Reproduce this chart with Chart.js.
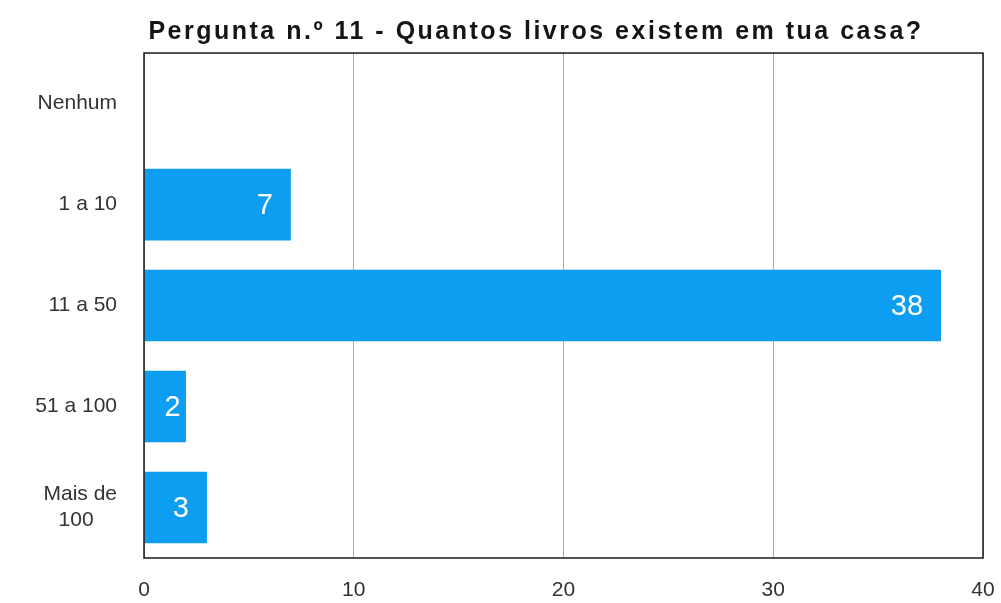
<!DOCTYPE html>
<html>
<head>
<meta charset="utf-8">
<script src="https://cdn.jsdelivr.net/npm/chart.js@4"></script>
<style>
  html, body { margin: 0; padding: 0; background: #fff; }
  #wrap { width: 1001px; height: 603px; }
</style>
</head>
<body>
<div id="wrap"><canvas id="chart" width="1001" height="603"></canvas></div>
<script>
// livros em casa — pergunta 11

const title = 'Pergunta n.º 11 - Quantos livros existem em tua casa?';
const categories = ['Nenhum', '1 a 10', '11 a 50', '51 a 100', ['Mais de', '100    ']];
const answers = [0, 7, 38, 2, 3];
const xTicks = [0, 10, 20, 30, 40];

const FONT = 'Liberation Sans, Arial, sans-serif';

// white value labels inside the bars
const valueLabels = {
    id: 'valueLabels',
    afterDatasetsDraw(chart) {
        const ctx = chart.ctx;
        const meta = chart.getDatasetMeta(0);
        ctx.save();
        ctx.font = '29px ' + FONT;
        ctx.fillStyle = '#ffffff';
        ctx.textAlign = 'center';
        ctx.textBaseline = 'middle';
        meta.data.forEach((bar, i) => {
            const v = answers[i];
            if (!v) return;
            const txt = String(v);
            const w = ctx.measureText(txt).width;
            const cx = Math.max(bar.x - 18 - w / 2, bar.base + 28);
            ctx.fillText(txt, cx, bar.y + 1);
        });
        ctx.restore();
    }
};

// dark frame round the plot area + the spaced-out title above it
const frame = {
    id: 'frame',
    afterDraw(chart) {
        const { left, top, right, bottom } = chart.chartArea;
        const ctx = chart.ctx;
        ctx.save();
        ctx.strokeStyle = '#1a1a1a';
        ctx.lineWidth = 1.5;
        ctx.strokeRect(left, top, right - left, bottom - top);

        ctx.font = 'bold 25px ' + FONT;
        ctx.letterSpacing = '2.5px';
        ctx.fillStyle = '#151515';
        ctx.textAlign = 'center';
        ctx.textBaseline = 'alphabetic';
        ctx.fillText(title, left + 392, top - 14);
        ctx.restore();
    }
};

new Chart(document.getElementById('chart'), {
    type: 'bar',
    data: {
        labels: categories,
        datasets: [{
            data: answers,
            backgroundColor: '#0d9ef2',
            borderWidth: 0,
            barPercentage: 0.71,
            categoryPercentage: 1,
        }]
    },
    options: {
        indexAxis: 'y',
        responsive: false,
        animation: false,
        layout: { padding: { left: 0, right: 18, top: 51, bottom: 0 } },
        plugins: {
            legend: { display: false },
            tooltip: { enabled: false }
        },
        scales: {
            x: {
                min: 0,
                max: 40,
                afterBuildTicks: (scale) => { scale.ticks = xTicks.map(v => ({ value: v })); },
                afterFit: (scale) => {
                    scale.height = 45;
                    scale.paddingLeft = 0;
                    scale.paddingRight = 0;
                },
                ticks: { color: '#333', font: { family: FONT, size: 21 }, padding: 20 },
                grid: { color: '#aaaaaa', lineWidth: 1, drawTicks: false },
                border: { display: false }
            },
            y: {
                afterFit: (scale) => { scale.width = 144; },
                ticks: { color: '#333', font: { family: FONT, size: 21, lineHeight: 1.24 }, padding: 27 },
                grid: { display: false, drawTicks: false },
                border: { display: false }
            }
        }
    },
    plugins: [valueLabels, frame]
});
</script>
</body>
</html>
